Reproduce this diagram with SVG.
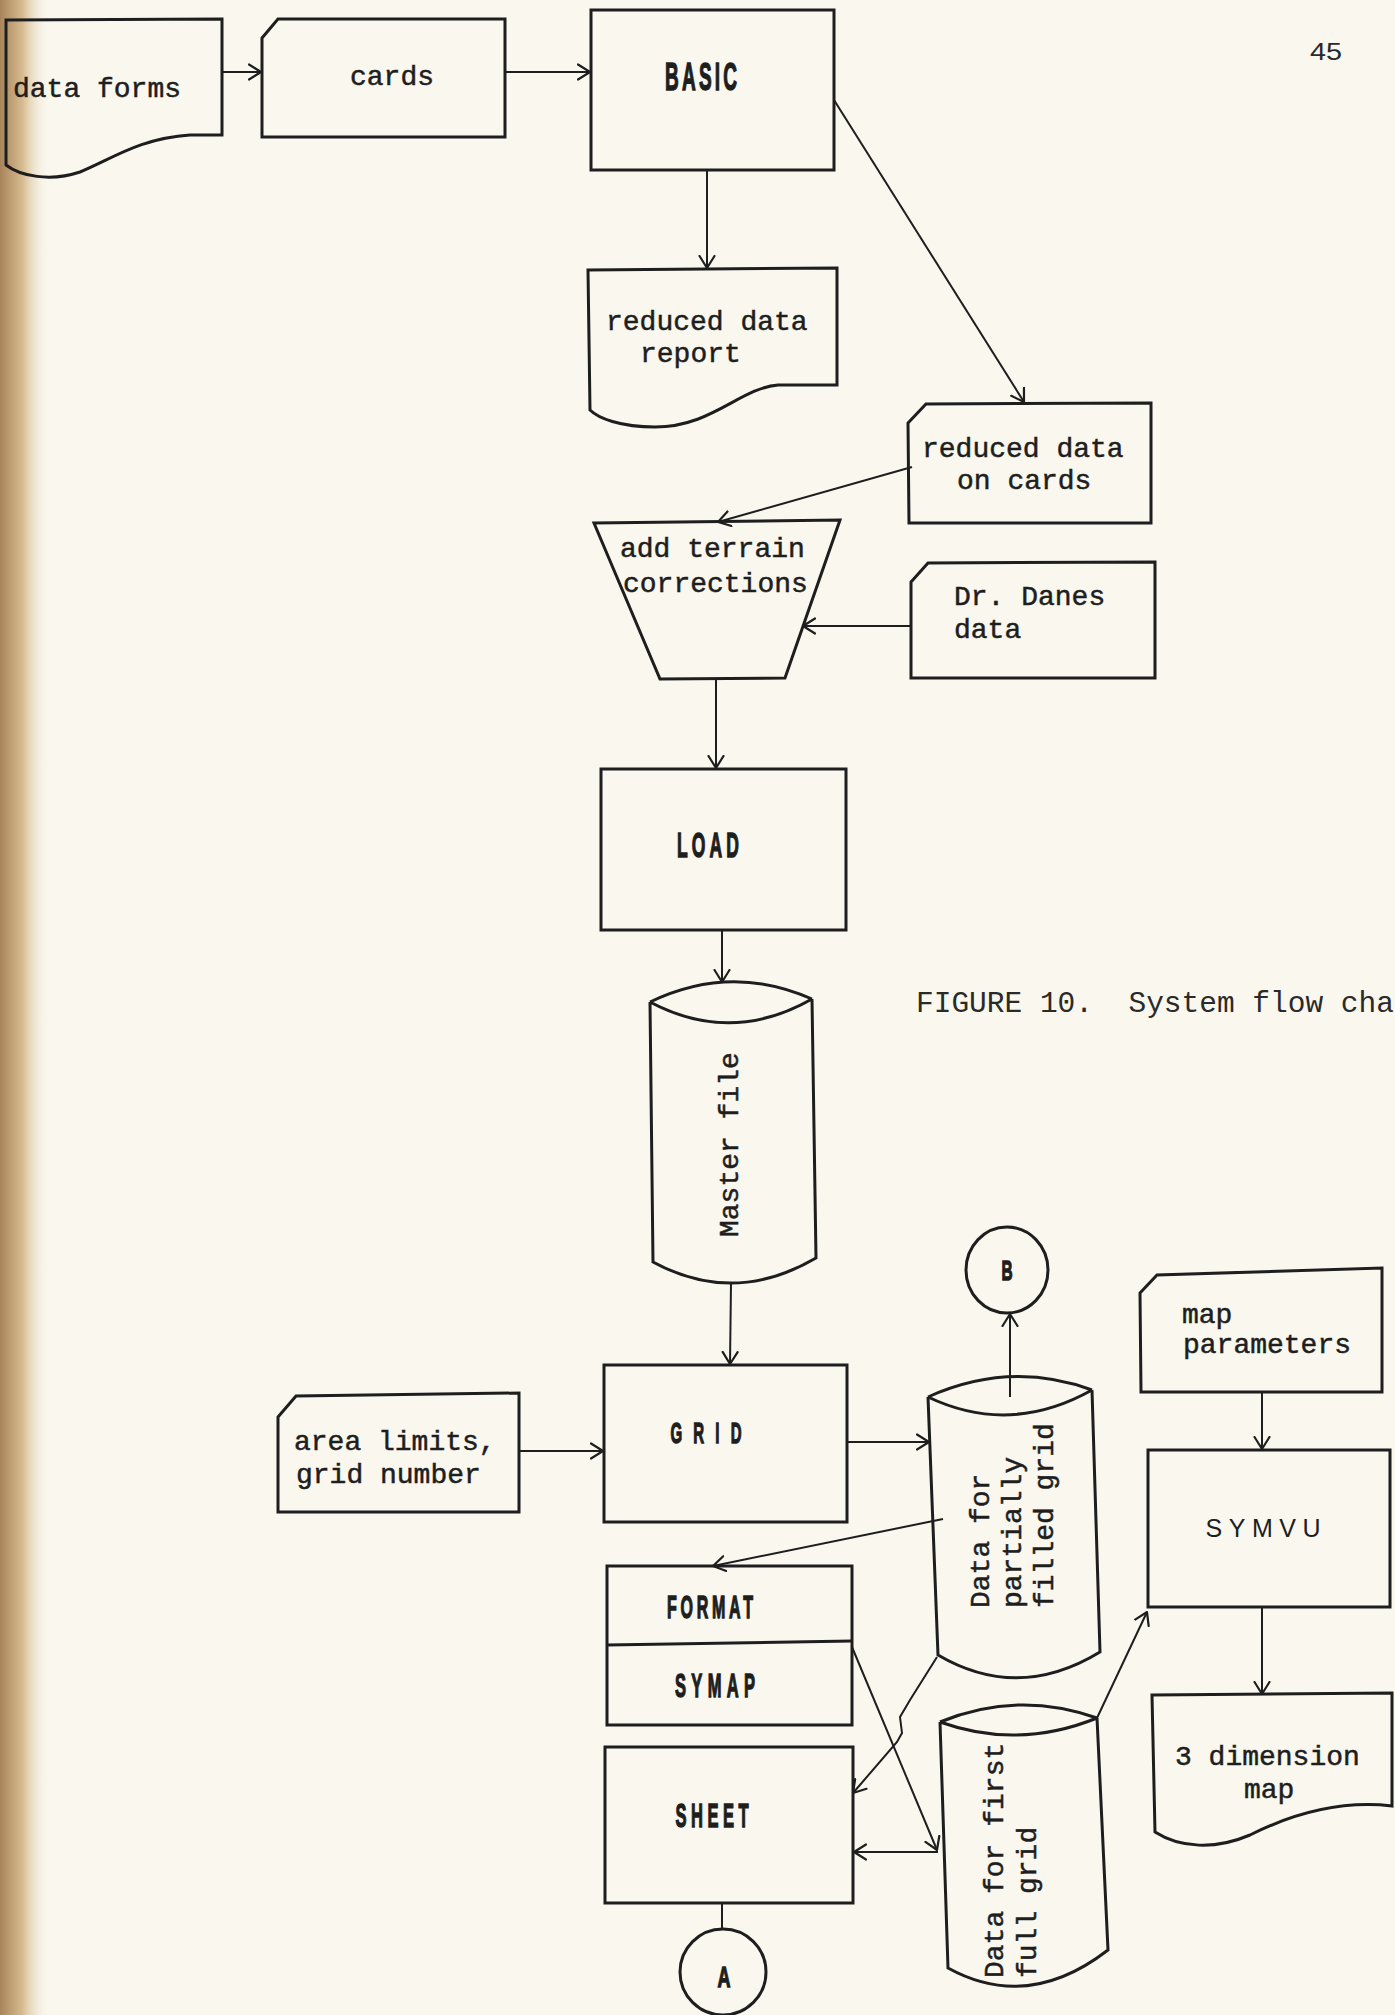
<svg xmlns="http://www.w3.org/2000/svg" width="1395" height="2015" viewBox="0 0 1395 2015">
<defs>
<linearGradient id="edge" x1="0" x2="1" y1="0" y2="0">
<stop offset="0" stop-color="#a8845a"/>
<stop offset="0.45" stop-color="#d7bb90"/>
<stop offset="1" stop-color="#f9f7ee" stop-opacity="0"/>
</linearGradient>
<marker id="arr" viewBox="0 0 14 18" refX="13" refY="9" markerWidth="14" markerHeight="18" markerUnits="userSpaceOnUse" orient="auto">
<path d="M1,1.5 L13,9 L1,16.5" fill="none" stroke="#1e1e1e" stroke-width="2.2" stroke-linecap="round" stroke-linejoin="round"/>
</marker>
<style>
.shape{fill:none;stroke:#1e1e1e;stroke-width:3;stroke-linejoin:miter}
.conn{fill:none;stroke:#1e1e1e;stroke-width:2;marker-end:url(#arr)}
.plain{fill:none;stroke:#1e1e1e;stroke-width:2}
.tw{font-family:"Liberation Mono","DejaVu Sans Mono",monospace;font-size:28px;fill:#1e1e1e;stroke:#1e1e1e;stroke-width:0.5}
.bk{font-family:"Liberation Sans",Arial,sans-serif;font-weight:bold;fill:#1e1e1e;stroke:#1e1e1e;stroke-width:1.4;text-anchor:middle}
.cap{font-family:"Liberation Mono","DejaVu Sans Mono",monospace;font-size:29.5px;fill:#2a2a2a;white-space:pre}
</style>
</defs>
<rect x="0" y="0" width="1395" height="2015" fill="#f9f7ee"/>
<rect x="0" y="0" width="50" height="2015" fill="url(#edge)"/>

<text x="1326" y="60" font-family="Liberation Sans,sans-serif" font-size="24" fill="#2a2a2a" text-anchor="middle" textLength="32" lengthAdjust="spacingAndGlyphs">45</text>
<text class="cap" x="916" y="1012">FIGURE 10.  System flow cha</text>

<g id="data-forms">
<path class="shape" d="M6,20 L222,19 L222,135 L190,135 C140,138 110,160 80,172 C50,182 20,176 6,165 Z"/>
<text class="tw" x="13" y="97">data forms</text>
</g>
<g id="cards">
<path class="shape" d="M262,38 L278,19 L505,19 L505,137 L262,137 Z"/>
<text class="tw" x="350" y="85">cards</text>
</g>
<g id="basic">
<rect class="shape" x="591" y="10" width="243" height="160"/>
<text class="bk" transform="translate(701,90) scale(0.5,1)" font-size="38" textLength="144" lengthAdjust="spacing">BASIC</text>
</g>
<g id="reduced-data-report">
<path class="shape" d="M588,270 L837,268 L837,385 L778,385 C740,388 712,427 655,427 C620,427 598,418 590,410 Z"/>
<text class="tw" x="606" y="330">reduced data</text>
<text class="tw" x="640" y="362">report</text>
</g>
<g id="reduced-data-cards">
<path class="shape" d="M908,423 L926,404 L1151,403 L1151,523 L909,523 Z"/>
<text class="tw" x="922" y="457">reduced data</text>
<text class="tw" x="957" y="489">on cards</text>
</g>
<g id="terrain">
<path class="shape" d="M594,523 L840,520 L785,678 L660,679 Z"/>
<text class="tw" x="620" y="557">add terrain</text>
<text class="tw" x="623" y="592">corrections</text>
</g>
<g id="danes">
<path class="shape" d="M911,582 L928,563 L1155,562 L1155,678 L911,678 Z"/>
<text class="tw" x="954" y="605">Dr. Danes</text>
<text class="tw" x="954" y="638">data</text>
</g>
<g id="load">
<rect class="shape" x="601" y="769" width="245" height="161"/>
<text class="bk" transform="translate(708,857) scale(0.5,1)" font-size="35" textLength="124" lengthAdjust="spacing">LOAD</text>
</g>
<g id="master-file">
<path class="shape" d="M650,1002 Q731,963 812,999 M650,1002 Q731,1045 812,999 M650,1002 L653,1262 Q734,1306 816,1258 L812,999"/>
<text class="tw" transform="translate(738,1237) rotate(-90)">Master file</text>
</g>
<g id="grid">
<rect class="shape" x="604" y="1365" width="243" height="157"/>
<text class="bk" transform="translate(706,1443) scale(0.5,1)" font-size="30" textLength="142" lengthAdjust="spacing">GRID</text>
</g>
<g id="area-limits">
<path class="shape" d="M278,1417 L296,1396 L519,1393 L519,1512 L278,1512 Z"/>
<text class="tw" x="294" y="1450">area limits,</text>
<text class="tw" x="296" y="1483">grid number</text>
</g>
<g id="partial-grid">
<path class="shape" d="M928,1397 Q1010,1360 1092,1390 M928,1397 Q1010,1436 1092,1390 M928,1397 L938,1655 Q1018,1702 1100,1652 L1092,1390"/>
<g class="tw" transform="translate(989,1608) rotate(-90)">
<text x="0" y="0">Data for</text>
<text x="0" y="32">partially</text>
<text x="0" y="64">filled grid</text>
</g>
</g>
<g id="connector-b">
<ellipse class="shape" cx="1007" cy="1270" rx="41" ry="43" stroke-width="2.5"/>
<text class="bk" transform="translate(1007,1280) scale(0.55,1)" font-size="28">B</text>
</g>
<g id="map-parameters">
<path class="shape" d="M1140,1293 L1157,1275 L1382,1268 L1382,1392 L1141,1392 Z"/>
<text class="tw" x="1182" y="1323">map</text>
<text class="tw" x="1183" y="1353">parameters</text>
</g>
<g id="symvu">
<rect class="shape" x="1148" y="1450" width="242" height="157"/>
<text x="1263" y="1537" font-family="Liberation Sans,Arial,sans-serif" font-size="25" fill="#1e1e1e" text-anchor="middle" textLength="115" lengthAdjust="spacing">SYMVU</text>
</g>
<g id="three-dim-map">
<path class="shape" d="M1152,1695 L1392,1693 L1392,1806 C1340,1800 1290,1815 1250,1835 C1215,1850 1180,1848 1155,1832 Z"/>
<text class="tw" x="1175" y="1765">3 dimension</text>
<text class="tw" x="1244" y="1798">map</text>
</g>
<g id="format-symap">
<rect class="shape" x="607" y="1566" width="245" height="159"/>
<line class="shape" x1="607" y1="1645" x2="852" y2="1641"/>
<text class="bk" transform="translate(710,1618) scale(0.5,1)" font-size="32" textLength="172" lengthAdjust="spacing">FORMAT</text>
<text class="bk" transform="translate(715,1697) scale(0.5,1)" font-size="33" textLength="160" lengthAdjust="spacing">SYMAP</text>
</g>
<g id="sheet">
<rect class="shape" x="605" y="1747" width="248" height="156"/>
<text class="bk" transform="translate(712,1827) scale(0.5,1)" font-size="33" textLength="146" lengthAdjust="spacing">SHEET</text>
</g>
<g id="full-grid">
<path class="shape" d="M940,1722 Q1018,1690 1097,1718 M940,1722 Q1018,1750 1097,1718 M940,1722 L948,1968 Q1028,2012 1108,1950 L1097,1718"/>
<g class="tw" transform="translate(1003,1978) rotate(-90)" font-size="27">
<text x="0" y="0">Data for first</text>
<text x="0" y="33">full grid</text>
</g>
</g>
<g id="connector-a">
<ellipse class="shape" cx="723" cy="1972" rx="43" ry="43" stroke-width="2.5"/>
<text class="bk" transform="translate(724,1987) scale(0.6,1)" font-size="30">A</text>
</g>

<g id="connectors">
<line class="conn" x1="222" y1="72" x2="261" y2="72" stroke-width="3"/>
<line class="conn" x1="505" y1="72" x2="590" y2="72"/>
<line class="conn" x1="707" y1="170" x2="707" y2="268"/>
<line class="conn" x1="834" y1="100" x2="1024" y2="402"/>
<line class="conn" x1="912" y1="467" x2="718" y2="522"/>
<line class="conn" x1="912" y1="626" x2="803" y2="626"/>
<line class="conn" x1="716" y1="679" x2="716" y2="768"/>
<line class="conn" x1="722" y1="930" x2="722" y2="982"/>
<line class="conn" x1="731" y1="1283" x2="730" y2="1364"/>
<line class="conn" x1="519" y1="1451" x2="603" y2="1451"/>
<line class="conn" x1="847" y1="1442" x2="929" y2="1442"/>
<line class="conn" x1="1010" y1="1397" x2="1010" y2="1314"/>
<line class="conn" x1="943" y1="1519" x2="713" y2="1566"/>
<line class="conn" x1="1262" y1="1392" x2="1262" y2="1449"/>
<line class="conn" x1="1262" y1="1607" x2="1262" y2="1694" stroke-width="3"/>
<line class="conn" x1="1097" y1="1718" x2="1147" y2="1612"/>
<line class="conn" x1="852" y1="1647" x2="937" y2="1850"/>
<line class="conn" x1="938" y1="1852" x2="854" y2="1852"/>
<polyline class="conn" points="937,1657 910,1700 900,1717 902,1733 897,1742 853,1793" stroke-width="3.5"/>
<line class="plain" x1="722" y1="1903" x2="722" y2="1929"/>
</g>
</svg>
